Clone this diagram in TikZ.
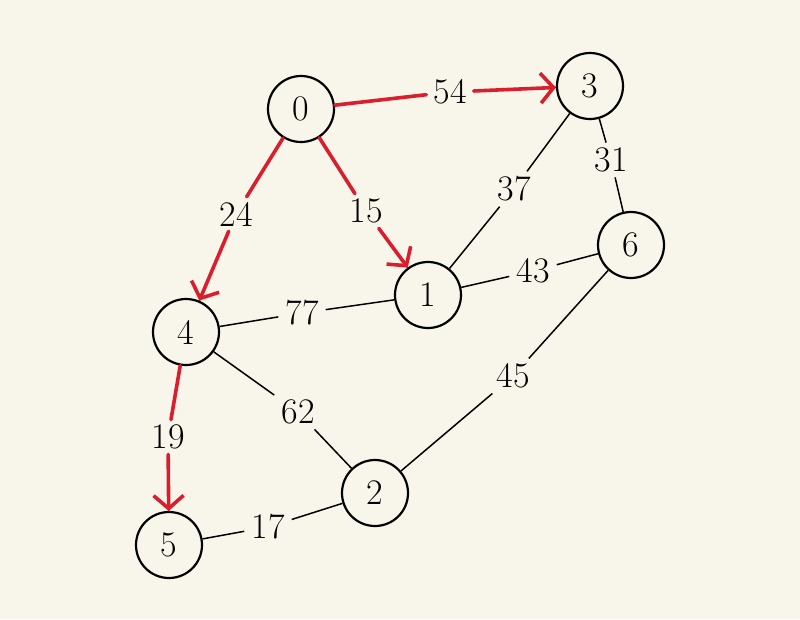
\documentclass[tikz,border=0pt]{standalone}
\usetikzlibrary{arrows.meta}
\definecolor{bg}{HTML}{F8F5EA}
\definecolor{pen}{HTML}{D91F2E}
\begin{document}
\begin{tikzpicture}[x=1pt,y=-1pt,
 vertex/.style={circle,draw=black,line width=2.2pt,minimum size=66pt,inner sep=0pt,font=\fontsize{36}{36}\selectfont},
 wlabel/.style={inner xsep=7pt,inner ysep=5pt,font=\fontsize{36}{36}\selectfont},
 edge/.style={line width=1.5pt},
 redline/.style={draw=pen,line width=3.6pt,line cap=round},
 redarrow/.style={redline,-{Straight Barb[length=13pt,width=30pt,line width=3.6pt]}}
]
\fill[bg] (0,0) rectangle (800,619);
\useasboundingbox (0,0) rectangle (800,619);
% vertices
\node[vertex] (n0) at (301,109) {0};
\node[vertex] (n3) at (590,86) {3};
\node[vertex] (n6) at (631,245) {6};
\node[vertex] (n1) at (428,295) {1};
\node[vertex] (n4) at (186,332) {4};
\node[vertex] (n2) at (375,493) {2};
\node[vertex] (n5) at (169,545) {5};
% weight labels
\node[wlabel] (l54) at (450,92) {54};
\node[wlabel] (l24) at (236,214) {24};
\node[wlabel] (l15) at (366,211) {15};
\node[wlabel] (l37) at (514,189) {37};
\node[wlabel] (l31) at (611,160) {31};
\node[wlabel] (l43) at (533,271) {43};
\node[wlabel] (l77) at (302,313) {77};
\node[wlabel] (l45) at (513,376) {45};
\node[wlabel] (l62) at (298,412) {62};
\node[wlabel] (l19) at (168,437) {19};
\node[wlabel] (l17) at (268,527) {17};
% black edges
\draw[edge] (n0) -- (l54) (l54) -- (n3);
\draw[edge] (n0) -- (l24) (l24) -- (n4);
\draw[edge] (n0) -- (l15) (l15) -- (n1);
\draw[edge] (n3) -- (l37) (l37) -- (n1);
\draw[edge] (n3) -- (l31) (l31) -- (n6);
\draw[edge] (n1) -- (l43) (l43) -- (n6);
\draw[edge] (n4) -- (l77) (l77) -- (n1);
\draw[edge] (n6) -- (l45) (l45) -- (n2);
\draw[edge] (n4) -- (l62) (l62) -- (n2);
\draw[edge] (n4) -- (l19) (l19) -- (n5);
\draw[edge] (n5) -- (l17) (l17) -- (n2);
% red shortest-path tree
\draw[redline] (n0) -- (l54);
\draw[redarrow] (l54) -- (n3);
\draw[redline] (n0) -- (l24);
\draw[redarrow] (l24) -- (n4);
\draw[redline] (n0) -- (l15);
\draw[redarrow] (l15) -- (n1);
\draw[redline] (n4) -- (l19);
\draw[redarrow] (l19) -- (n5);
\end{tikzpicture}
\end{document}
